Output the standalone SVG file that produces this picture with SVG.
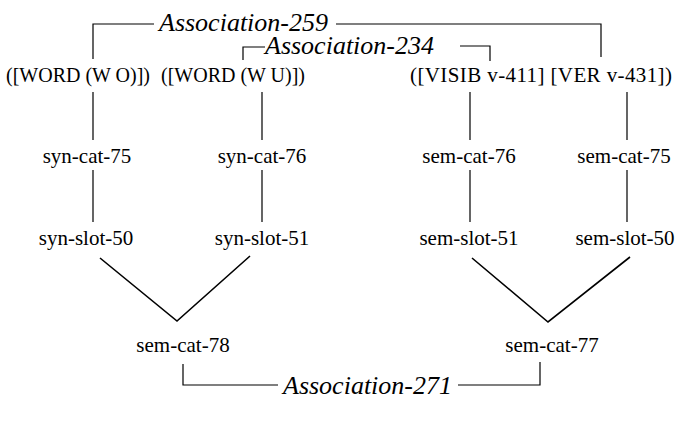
<svg xmlns="http://www.w3.org/2000/svg" width="686" height="448" viewBox="0 0 686 448">
<style>
.t{font-family:"Liberation Serif","Times New Roman",serif;font-size:21px;fill:#000;text-anchor:middle}
.w{font-size:20px}
.a{font-family:"Liberation Serif","Times New Roman",serif;font-size:26px;font-style:italic;fill:#000}
.l{stroke:#000;stroke-width:1.2;fill:none}
.d{stroke:#000;stroke-width:1.6;fill:none}
</style>
<rect width="686" height="448" fill="#fff"/>
<g id="connectors">
<path class="l" d="M93,59V24H154M336,24H601V57"/>
<path class="l" d="M243,60V47H265M460,46H490V61"/>
<path class="l" d="M93,92V140M93,170V222"/>
<path class="l" d="M262,92V140M262,170V222"/>
<path class="l" d="M470,92V140M470,170V222"/>
<path class="l" d="M627,92V140M627,170V222"/>
<path class="d" d="M100,258L177,321L250,256"/>
<path class="d" d="M472,258L548,322L630,257"/>
<path class="l" d="M183,364V385H278M458,385H540V362"/>
</g>
<g id="assoc-259"><text class="a" x="159" y="31">Association-259</text></g>
<g id="assoc-234"><text class="a" x="265" y="54" font-size="25">Association-234</text></g>
<g id="assoc-271"><text class="a" x="283" y="394">Association-271</text></g>
<g id="word-wo"><text class="t w" x="78" y="82">([WORD (W O)])</text></g>
<g id="word-wu"><text class="t w" x="233" y="82">([WORD (W U)])</text></g>
<g id="visib"><text class="t" x="541" y="82" textLength="262" lengthAdjust="spacing">([VISIB v-411] [VER v-431])</text></g>
<g id="syn-cat-75"><text class="t" x="87" y="163">syn-cat-75</text></g>
<g id="syn-cat-76"><text class="t" x="262" y="163">syn-cat-76</text></g>
<g id="sem-cat-76"><text class="t" x="469" y="163">sem-cat-76</text></g>
<g id="sem-cat-75"><text class="t" x="624" y="163">sem-cat-75</text></g>
<g id="syn-slot-50"><text class="t" x="86" y="245">syn-slot-50</text></g>
<g id="syn-slot-51"><text class="t" x="262" y="245">syn-slot-51</text></g>
<g id="sem-slot-51"><text class="t" x="469" y="245">sem-slot-51</text></g>
<g id="sem-slot-50"><text class="t" x="625" y="245">sem-slot-50</text></g>
<g id="sem-cat-78"><text class="t" x="183" y="352">sem-cat-78</text></g>
<g id="sem-cat-77"><text class="t" x="552" y="352">sem-cat-77</text></g>
</svg>
